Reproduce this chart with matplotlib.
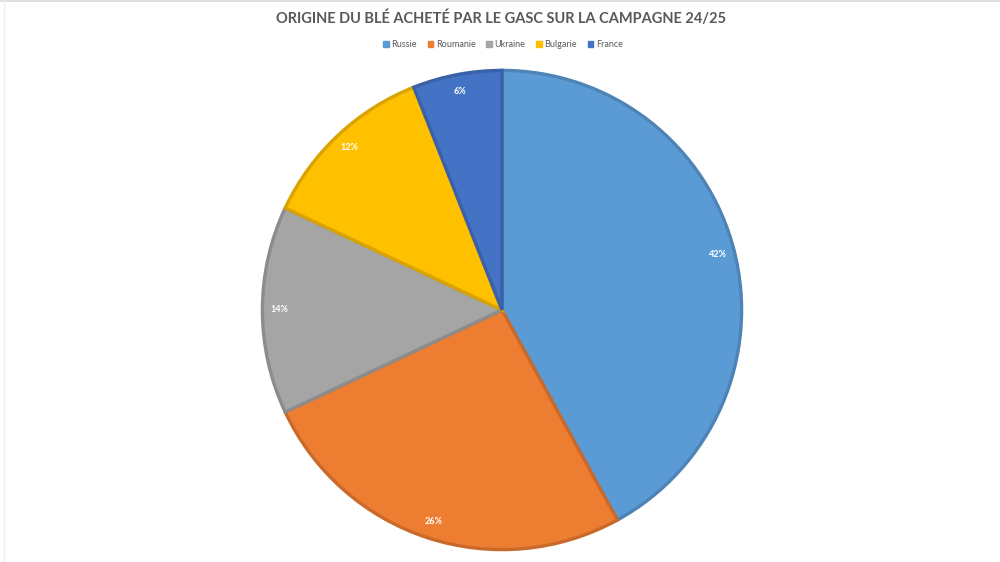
import matplotlib.pyplot as plt
import matplotlib.colors as mcolors
from matplotlib.patches import Patch

# data
pays = ["Russie", "Roumanie", "Ukraine", "Bulgarie", "France"]
parts = [42, 26, 14, 12, 6]
couleurs = ["#5B9BD5", "#ED7D31", "#A5A5A5", "#FFC000", "#4472C4"]

titre = "ORIGINE DU BLÉ ACHETÉ PAR LE GASC SUR LA CAMPAGNE 24/25"


def darker(c, f=0.85):
    r, g, b = mcolors.to_rgb(c)
    return (r * f, g * f, b * f)


fig = plt.figure(figsize=(10, 5.62), dpi=100)
fig.patch.set_facecolor("white")

# pie axes placed so the circle sits where it does in the original
ax = fig.add_axes([0.26, 0.0178, 0.484, 0.8612])
wedges, texts, autotexts = ax.pie(
    parts,
    colors=couleurs,
    startangle=90,
    counterclock=False,
    autopct="%1.0f%%",
    pctdistance=0.93,
    radius=1,
    wedgeprops=dict(linewidth=2.4),
    textprops=dict(color="white", fontsize=6.5, fontweight="bold", family="Lato"),
)
for w, c in zip(wedges, couleurs):
    w.set_edgecolor(darker(c))
ax.set_xlim(-1.01, 1.01)
ax.set_ylim(-1.01, 1.01)
ax.set_aspect("equal")

fig.text(0.501, 0.968, titre, ha="center", va="center", fontsize=10.5,
         fontweight="bold", color="#595959", family="Lato")

handles = [Patch(facecolor=c, edgecolor=c) for c in couleurs]
leg = fig.legend(handles, pays, loc="center", bbox_to_anchor=(0.503, 0.92),
                 ncol=5, frameon=False, handlelength=0.6,
                 handleheight=0.6, handletextpad=0.3, columnspacing=1.2,
                 prop=dict(family="Lato", size=6.5))
for t in leg.get_texts():
    t.set_color("#595959")

# faint frame lines at top and left
fig.add_artist(plt.Line2D([0, 1], [0.998, 0.998], color="#D9D9D9", lw=1.2))
fig.add_artist(plt.Line2D([0.004, 0.004], [0, 1], color="#EEEEEE", lw=1))

fig.savefig("out.png", dpi=100)
